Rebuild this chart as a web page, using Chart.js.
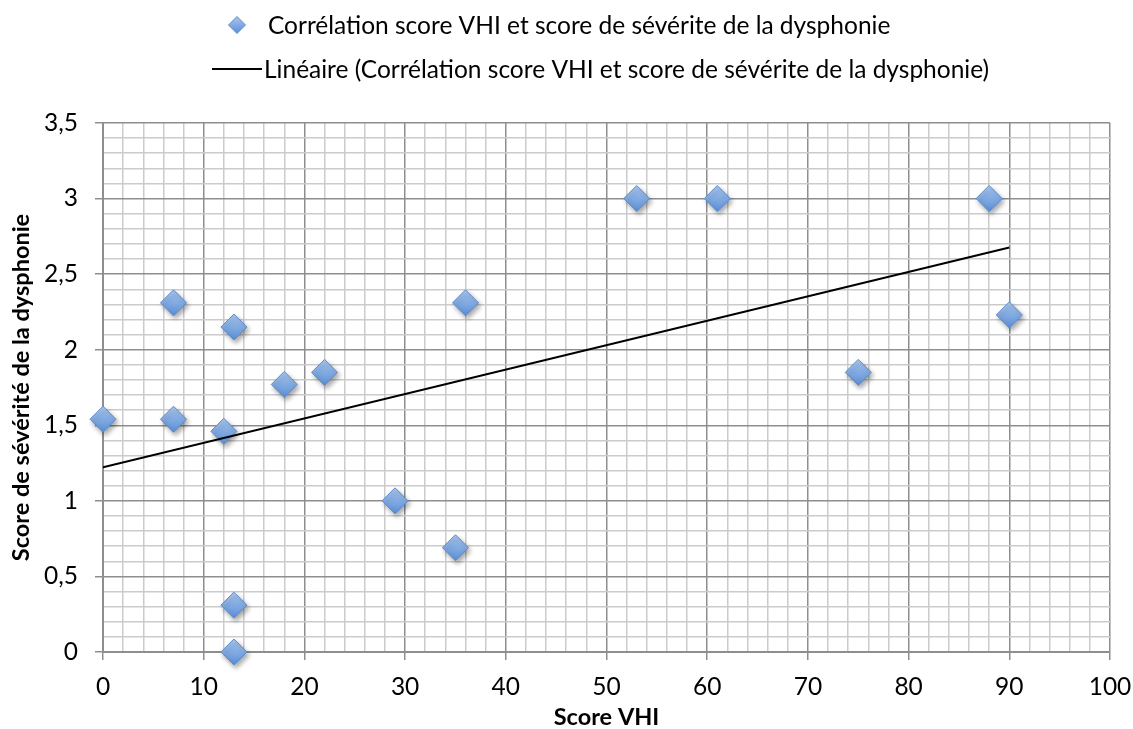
<!DOCTYPE html>
<html>
<head>
<meta charset="utf-8">
<script src="https://cdn.jsdelivr.net/npm/chart.js@4.4.1/dist/chart.umd.min.js"></script>
<style>
  html, body { margin: 0; padding: 0; background: #fff; }
</style>
</head>
<body>
<canvas id="myChart" width="1133" height="729"></canvas>
<script>
// Score VHI (x) and dysphonia severity score (y), one entry per patient
var vhiScores = [0, 7, 7, 12, 13, 13, 13, 18, 22, 29, 35, 36, 53, 61, 75, 88, 90];
var severityScores = [1.54, 1.54, 2.31, 1.46, 2.15, 0.31, 0, 1.77, 1.85, 1.0, 0.69, 2.31, 3, 3, 1.85, 3, 2.23];

var seriesLabel = 'Corrélation score VHI et score de sévérite de la dysphonie';
var trendLabel = 'Linéaire (' + seriesLabel + ')';
var xTitle = 'Score VHI';
var yTitle = 'Score de sévérité de la dysphonie';

var xMin = 0, xMax = 100, xStep = 2, xMajor = 10;
var yMin = 0, yMax = 3.5, yStep = 0.1, yMajor = 0.5;

var FONT = 'Lato, "Open Sans", sans-serif';
var TEXT_SIZE = 24.5;
var TITLE_SIZE = 23.5;

// least squares fit for the trend line
function linearFit(xs, ys) {
  var n = xs.length, mx = 0, my = 0, sxy = 0, sxx = 0;
  for (var i = 0; i < n; i++) { mx += xs[i]; my += ys[i]; }
  mx /= n; my /= n;
  for (var j = 0; j < n; j++) {
    sxy += (xs[j] - mx) * (ys[j] - my);
    sxx += (xs[j] - mx) * (xs[j] - mx);
  }
  var slope = sxy / sxx;
  return { slope: slope, intercept: my - slope * mx };
}

var fit = linearFit(vhiScores, severityScores);
var x0 = Math.min.apply(null, vhiScores), x1 = Math.max.apply(null, vhiScores);
var trendPoints = [
  { x: x0, y: fit.intercept + fit.slope * x0 },
  { x: x1, y: fit.intercept + fit.slope * x1 }
];

var points = vhiScores.map(function (v, i) { return { x: v, y: severityScores[i] }; });

function isMajor(v, step) {
  var r = v / step;
  return Math.abs(r - Math.round(r)) < 1e-6;
}

function diamondGradient(c, cy, r) {
  var g = c.createLinearGradient(0, cy - r, 0, cy + r);
  g.addColorStop(0, '#a9c7ef');
  g.addColorStop(1, '#5b8fd6');
  return g;
}

function diamondFill(ctx) {
  var chart = ctx.chart;
  if (!ctx.parsed || !chart.scales.y) return '#7ea8de';
  var cy = chart.scales.y.getPixelForValue(ctx.parsed.y);
  if (!isFinite(cy)) return '#7ea8de';
  return diamondGradient(chart.ctx, cy, 13);
}

// soft drop shadow under the diamonds
var shadowPlugin = {
  id: 'diamondShadow',
  beforeDatasetDraw: function (chart, args) {
    if (args.index !== 0) return;
    var c = chart.ctx;
    c.save();
    c.shadowColor = 'rgba(0,0,0,0.35)';
    c.shadowBlur = 5;
    c.shadowOffsetX = 2;
    c.shadowOffsetY = 3;
  },
  afterDatasetDraw: function (chart, args) {
    if (args.index === 0) chart.ctx.restore();
  }
};

// two-row legend above the plot
var legendPlugin = {
  id: 'twoRowLegend',
  afterDraw: function (chart) {
    var c = chart.ctx;
    var ds = chart.data.datasets;
    c.save();
    c.font = TEXT_SIZE + 'px ' + FONT;
    c.textBaseline = 'middle';
    c.textAlign = 'left';

    // scatter entry
    var dx = 237, dy = 25, r = 8.5;
    c.beginPath();
    c.moveTo(dx, dy - r); c.lineTo(dx + r, dy); c.lineTo(dx, dy + r); c.lineTo(dx - r, dy);
    c.closePath();
    c.fillStyle = diamondGradient(c, dy, r);
    c.fill();
    c.strokeStyle = '#5a8bd0';
    c.lineWidth = 1;
    c.stroke();
    c.fillStyle = '#000';
    c.fillText(ds[0].label, 268, dy + 1);

    // trend line entry
    var ly = 69;
    c.beginPath();
    c.moveTo(212, ly); c.lineTo(262, ly);
    c.strokeStyle = '#000';
    c.lineWidth = 2;
    c.stroke();
    c.fillText(ds[1].label, 264, ly + 1);
    c.restore();
  }
};

var ctx = document.getElementById('myChart').getContext('2d');
var chart = new Chart(ctx, {
  type: 'scatter',
  data: {
    datasets: [{
      label: seriesLabel,
      data: points,
      order: 2,
      clip: false,
      pointStyle: 'rectRot',
      pointRadius: 13,
      pointHoverRadius: 13,
      backgroundColor: diamondFill,
      borderColor: '#5a8bd0',
      borderWidth: 1
    }, {
      label: trendLabel,
      data: trendPoints,
      order: 1,
      showLine: true,
      borderColor: '#000',
      borderWidth: 2,
      pointRadius: 0,
      fill: false
    }]
  },
  options: {
    responsive: false,
    animation: false,
    layout: { padding: { top: 123, right: 0, left: 0, bottom: 0 } },
    plugins: {
      legend: { display: false },
      tooltip: { enabled: false }
    },
    scales: {
      x: {
        type: 'linear',
        min: xMin,
        max: xMax,
        afterFit: function (s) {
          s.height = 77;
          s.paddingLeft = 0;
          s.paddingRight = 23;
        },
        ticks: {
          stepSize: xStep,
          autoSkip: false,
          maxRotation: 0,
          padding: 12,
          color: '#000',
          font: { family: FONT, size: TEXT_SIZE },
          callback: function (v) { return isMajor(v, xMajor) ? String(Math.round(v)) : ''; }
        },
        grid: {
          color: function (c) { return isMajor(c.tick.value, xMajor) ? '#8e8e8e' : '#cbcbcb'; },
          lineWidth: 1.5,
          tickLength: 8,
          tickWidth: 1.5,
          tickColor: function (c) { return isMajor(c.tick.value, xMajor) ? '#8e8e8e' : 'rgba(0,0,0,0)'; }
        },
        border: { color: '#8e8e8e', width: 2 },
        title: {
          display: true,
          text: xTitle,
          color: '#000',
          padding: 0,
          font: { family: FONT, size: TITLE_SIZE, weight: 'bold', lineHeight: 1 }
        }
      },
      y: {
        type: 'linear',
        min: yMin,
        max: yMax,
        afterFit: function (s) { s.width = 103; },
        ticks: {
          stepSize: yStep,
          autoSkip: false,
          padding: 17,
          color: '#000',
          font: { family: FONT, size: TEXT_SIZE },
          callback: function (v) {
            return isMajor(v, yMajor) ? String(Math.round(v * 10) / 10).replace('.', ',') : '';
          }
        },
        grid: {
          color: function (c) { return isMajor(c.tick.value, yMajor) ? '#8e8e8e' : '#cbcbcb'; },
          lineWidth: 1.5,
          tickLength: 8,
          tickWidth: 1.5,
          tickColor: function (c) { return isMajor(c.tick.value, yMajor) ? '#8e8e8e' : 'rgba(0,0,0,0)'; }
        },
        border: { color: '#8e8e8e', width: 2 },
        title: {
          display: true,
          text: yTitle,
          color: '#000',
          padding: { top: 10, bottom: 0 },
          font: { family: FONT, size: TITLE_SIZE, weight: 'bold', lineHeight: 1 }
        }
      }
    }
  },
  plugins: [shadowPlugin, legendPlugin]
});
</script>
</body>
</html>
